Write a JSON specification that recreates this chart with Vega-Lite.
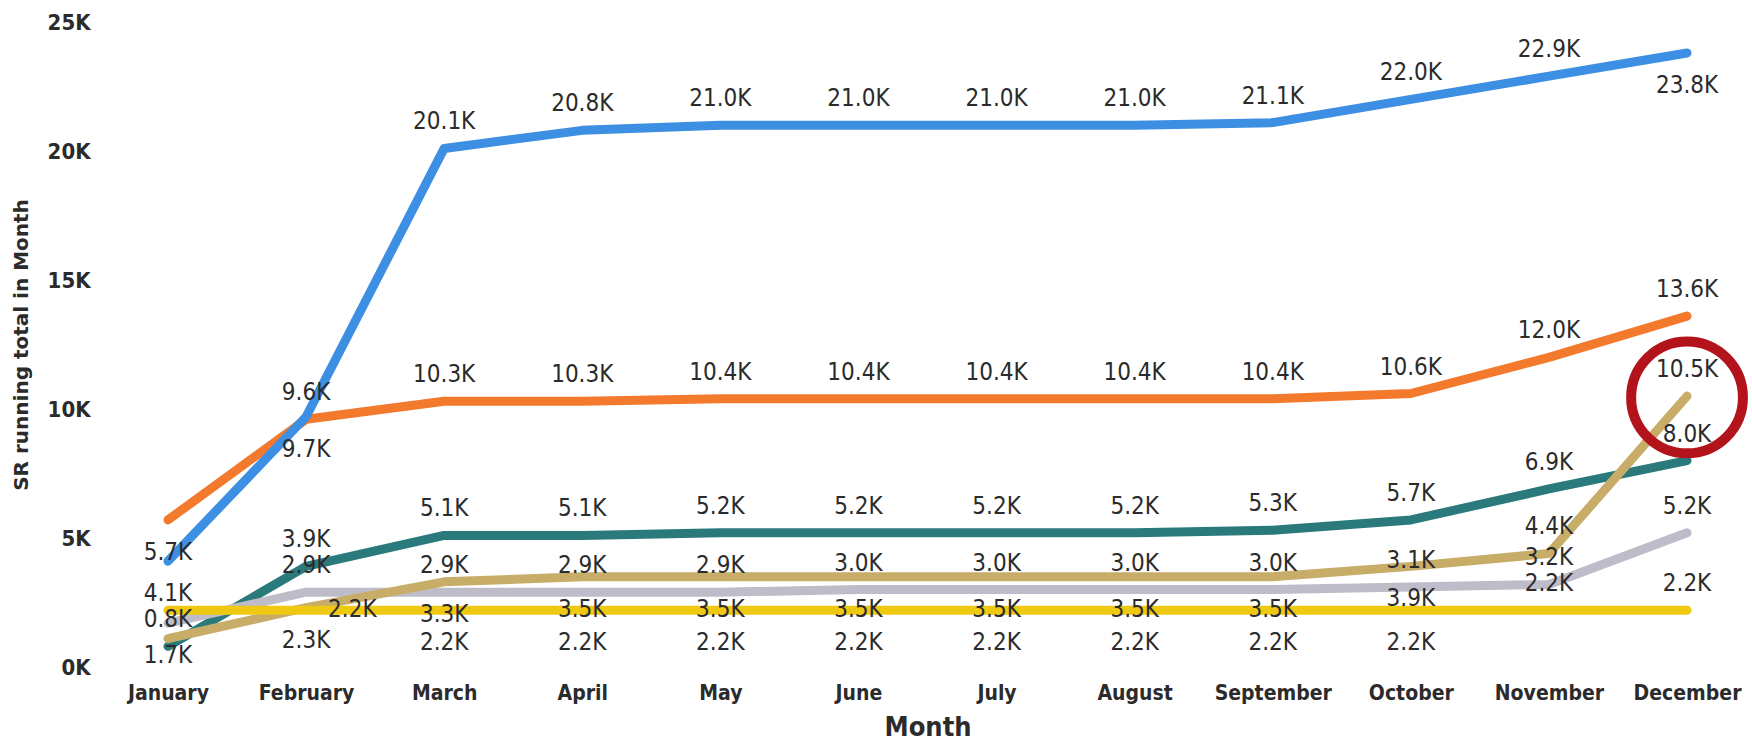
{
  "$schema": "https://vega.github.io/schema/vega-lite/v6.json",
  "autosize": "none",
  "padding": {"left": 105, "top": 22, "right": 2, "bottom": 76},
  "width": 1645,
  "height": 645,
  "background": "white",
  "config": {"view": {"stroke": null}},
  "datasets": {
    "main": [
      {"month": "January", "series": "S1", "value": 800},
      {"month": "February", "series": "S1", "value": 3900},
      {"month": "March", "series": "S1", "value": 5100},
      {"month": "April", "series": "S1", "value": 5100},
      {"month": "May", "series": "S1", "value": 5200},
      {"month": "June", "series": "S1", "value": 5200},
      {"month": "July", "series": "S1", "value": 5200},
      {"month": "August", "series": "S1", "value": 5200},
      {"month": "September", "series": "S1", "value": 5300},
      {"month": "October", "series": "S1", "value": 5700},
      {"month": "November", "series": "S1", "value": 6900},
      {"month": "December", "series": "S1", "value": 8000},
      {"month": "January", "series": "S2", "value": 1700},
      {"month": "February", "series": "S2", "value": 2900},
      {"month": "March", "series": "S2", "value": 2900},
      {"month": "April", "series": "S2", "value": 2900},
      {"month": "May", "series": "S2", "value": 2900},
      {"month": "June", "series": "S2", "value": 3000},
      {"month": "July", "series": "S2", "value": 3000},
      {"month": "August", "series": "S2", "value": 3000},
      {"month": "September", "series": "S2", "value": 3000},
      {"month": "October", "series": "S2", "value": 3100},
      {"month": "November", "series": "S2", "value": 3200},
      {"month": "December", "series": "S2", "value": 5200},
      {"month": "January", "series": "S3", "value": 1100},
      {"month": "February", "series": "S3", "value": 2300},
      {"month": "March", "series": "S3", "value": 3300},
      {"month": "April", "series": "S3", "value": 3500},
      {"month": "May", "series": "S3", "value": 3500},
      {"month": "June", "series": "S3", "value": 3500},
      {"month": "July", "series": "S3", "value": 3500},
      {"month": "August", "series": "S3", "value": 3500},
      {"month": "September", "series": "S3", "value": 3500},
      {"month": "October", "series": "S3", "value": 3900},
      {"month": "November", "series": "S3", "value": 4400},
      {"month": "December", "series": "S3", "value": 10500},
      {"month": "January", "series": "S4", "value": 5700},
      {"month": "February", "series": "S4", "value": 9600},
      {"month": "March", "series": "S4", "value": 10300},
      {"month": "April", "series": "S4", "value": 10300},
      {"month": "May", "series": "S4", "value": 10400},
      {"month": "June", "series": "S4", "value": 10400},
      {"month": "July", "series": "S4", "value": 10400},
      {"month": "August", "series": "S4", "value": 10400},
      {"month": "September", "series": "S4", "value": 10400},
      {"month": "October", "series": "S4", "value": 10600},
      {"month": "November", "series": "S4", "value": 12000},
      {"month": "December", "series": "S4", "value": 13600},
      {"month": "January", "series": "S5", "value": 4100},
      {"month": "February", "series": "S5", "value": 9700},
      {"month": "March", "series": "S5", "value": 20100},
      {"month": "April", "series": "S5", "value": 20800},
      {"month": "May", "series": "S5", "value": 21000},
      {"month": "June", "series": "S5", "value": 21000},
      {"month": "July", "series": "S5", "value": 21000},
      {"month": "August", "series": "S5", "value": 21000},
      {"month": "September", "series": "S5", "value": 21100},
      {"month": "October", "series": "S5", "value": 22000},
      {"month": "November", "series": "S5", "value": 22900},
      {"month": "December", "series": "S5", "value": 23800},
      {"month": "January", "series": "S6", "value": 2200},
      {"month": "February", "series": "S6", "value": 2200},
      {"month": "March", "series": "S6", "value": 2200},
      {"month": "April", "series": "S6", "value": 2200},
      {"month": "May", "series": "S6", "value": 2200},
      {"month": "June", "series": "S6", "value": 2200},
      {"month": "July", "series": "S6", "value": 2200},
      {"month": "August", "series": "S6", "value": 2200},
      {"month": "September", "series": "S6", "value": 2200},
      {"month": "October", "series": "S6", "value": 2200},
      {"month": "November", "series": "S6", "value": 2200},
      {"month": "December", "series": "S6", "value": 2200}
    ],
    "highlight": [
      {"month": "December", "value": 10450}
    ]
  },
  "data": {"name": "main"},
  "encoding": {
    "x": {
      "field": "month",
      "type": "ordinal",
      "sort": ["January","February","March","April","May","June","July","August","September","October","November","December"],
      "scale": {"type": "point", "padding": 0.456},
      "axis": {
        "title": "Month",
        "labelAngle": 0,
        "labelFont": "DejaVu Sans Condensed, Roboto, sans-serif",
        "labelFontWeight": "bold",
        "labelFontSize": 21,
        "labelColor": "#2b2b2b",
        "labelPadding": 15,
        "ticks": false,
        "domain": false,
        "grid": false,
        "titleFont": "DejaVu Sans Condensed, Roboto, sans-serif",
        "titleFontSize": 27,
        "titleFontWeight": "bold",
        "titleColor": "#2b2b2b",
        "titlePadding": 11
      }
    },
    "y": {
      "field": "value",
      "type": "quantitative",
      "scale": {"domain": [0, 25000], "nice": false},
      "axis": {
        "title": "SR running total in Month",
        "values": [0, 5000, 10000, 15000, 20000, 25000],
        "labelExpr": "(datum.value / 1000) + 'K'",
        "labelFont": "DejaVu Sans Condensed, Roboto, sans-serif",
        "labelFontWeight": "bold",
        "labelFontSize": 22,
        "labelColor": "#2b2b2b",
        "labelPadding": 15,
        "ticks": false,
        "domain": false,
        "grid": false,
        "titleFont": "DejaVu Sans",
        "titleFontSize": 20,
        "titleFontWeight": "bold",
        "titleColor": "#2b2b2b",
        "titlePadding": 16
      }
    }
  },
  "layer": [
    {
      "mark": {"type": "line", "strokeWidth": 9, "strokeCap": "round", "strokeJoin": "round", "clip": false},
      "encoding": {
        "color": {
          "field": "series",
          "type": "nominal",
          "scale": {
            "domain": ["S1", "S2", "S3", "S4", "S5", "S6"],
            "range": ["#2A7A7C", "#BEBCC8", "#C8AD69", "#F3792D", "#3C8FE2", "#EEC811"]
          },
          "legend": null
        }
      }
    },
    {
      "transform": [
        {"calculate": "format(datum.value / 1000, '.1f') + 'K'", "as": "label"},
        {"filter": "!((datum.series == 'S3' && datum.month == 'January') || (datum.series == 'S6' && (datum.month == 'January' || datum.month == 'February')))"},
        {"filter": "!((datum.series == 'S5' && indexof(['January','February','December'], datum.month) >= 0) || (datum.series == 'S4' && datum.month == 'January') || (datum.series == 'S2' && datum.month == 'January') || (datum.series == 'S3' && indexof(['February','March','April','May','June','July','August','September','October'], datum.month) >= 0) || (datum.series == 'S6' && indexof(['March','April','May','June','July','August','September','October'], datum.month) >= 0))"}
      ],
      "mark": {"type": "text", "dy": -26, "baseline": "middle", "font": "DejaVu Sans Condensed, Roboto, sans-serif", "fontSize": 24, "color": "#2b2b2b", "clip": false},
      "encoding": {"text": {"field": "label"}}
    },
    {
      "transform": [
        {"calculate": "format(datum.value / 1000, '.1f') + 'K'", "as": "label"},
        {"filter": "(datum.series == 'S5' && indexof(['January','February','December'], datum.month) >= 0) || (datum.series == 'S4' && datum.month == 'January') || (datum.series == 'S2' && datum.month == 'January') || (datum.series == 'S3' && indexof(['February','March','April','May','June','July','August','September','October'], datum.month) >= 0) || (datum.series == 'S6' && indexof(['March','April','May','June','July','August','September','October'], datum.month) >= 0)"}
      ],
      "mark": {"type": "text", "dy": 33, "baseline": "middle", "font": "DejaVu Sans Condensed, Roboto, sans-serif", "fontSize": 24, "color": "#2b2b2b", "clip": false},
      "encoding": {"text": {"field": "label"}}
    },
    {
      "transform": [
        {"calculate": "format(datum.value / 1000, '.1f') + 'K'", "as": "label"},
        {"filter": "datum.series == 'S6' && datum.month == 'February'"}
      ],
      "mark": {"type": "text", "dx": 22, "dy": 0, "align": "left", "baseline": "middle", "font": "DejaVu Sans Condensed, Roboto, sans-serif", "fontSize": 24, "color": "#2b2b2b", "clip": false},
      "encoding": {"text": {"field": "label"}}
    },
    {
      "data": {"name": "highlight"},
      "mark": {"type": "point", "shape": "circle", "filled": false, "size": 12500, "stroke": "#B3141C", "strokeWidth": 10, "opacity": 1, "clip": false},
      "encoding": {}
    }
  ]
}
